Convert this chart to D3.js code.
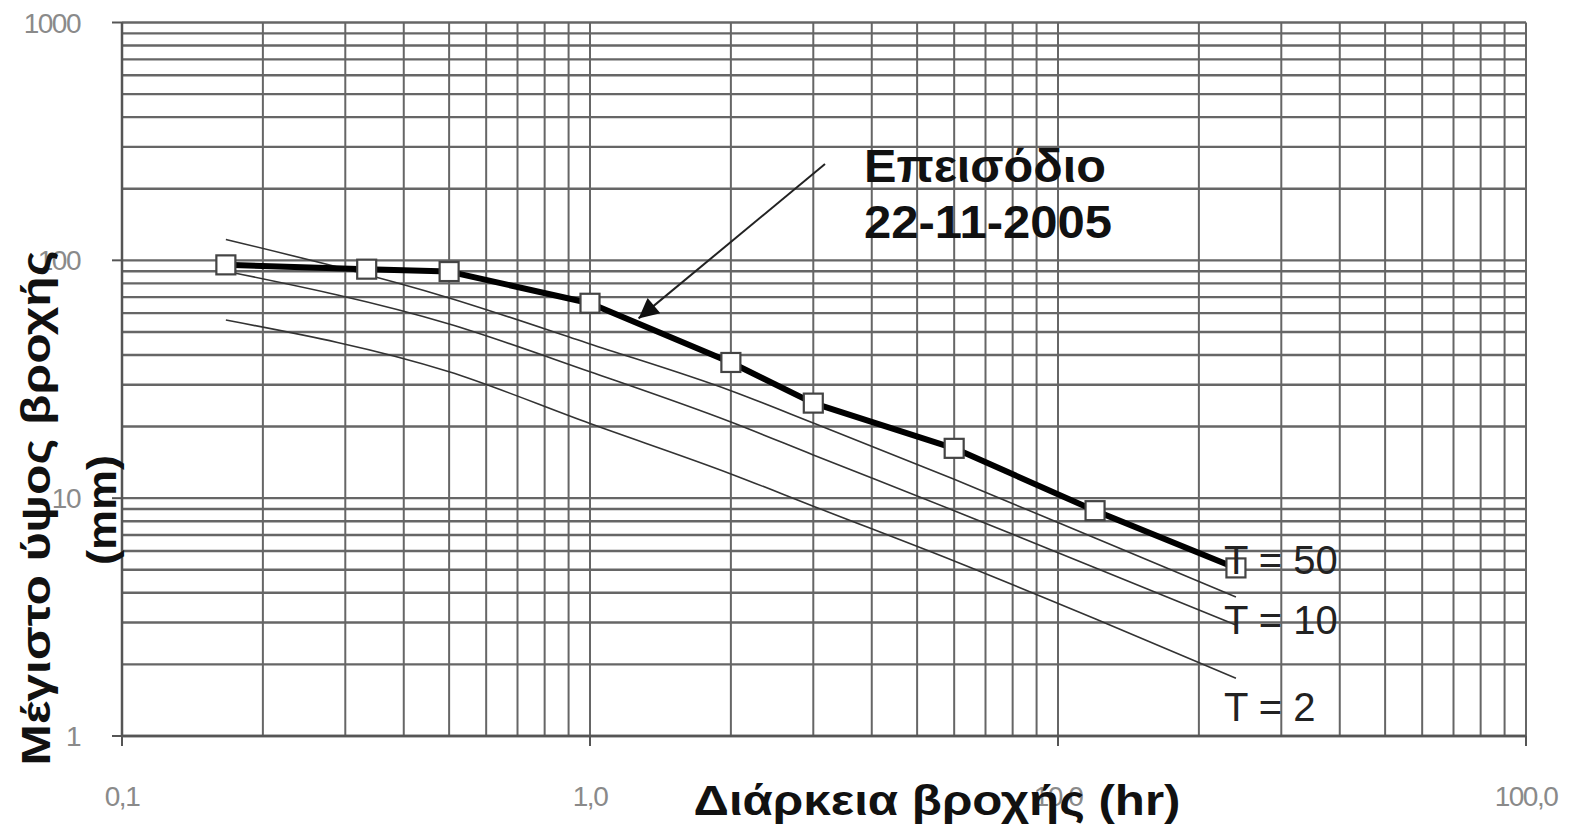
<!DOCTYPE html>
<html>
<head>
<meta charset="utf-8">
<script src="https://cdn.jsdelivr.net/npm/d3@7"></script>
<style>
  html, body { margin: 0; padding: 0; background: #fff; }
  svg { display: block; }
  text { font-family: Arial, "Liberation Sans", sans-serif; }
</style>
</head>
<body>
<svg id="chart" width="1569" height="832"></svg>
<script>
// ---- data ----
const durations = [0.1667, 0.3333, 0.5, 1, 2, 3, 6, 12, 24];
const episode   = [95.7, 91.8, 89.7, 66.0, 37.2, 25.1, 16.2, 8.86, 5.09];

const idfDurations = [0.1667, 0.5, 1, 2, 3, 6, 12, 24];
const t50 = [122.4, 69.5, 44.5, 28.3, 20.7, 12.0, 6.8, 3.84];
const t10 = [90.0, 54.0, 34.0, 20.9, 15.2, 8.86, 5.1, 2.93];
const t2  = [56.1, 34.0, 20.6, 12.65, 9.25, 5.44, 3.11, 1.75];

const curveNames = ["T = 50", "T = 10", "T = 2"];

const xTickValues = [0.1, 1, 10, 100];
const xTickLabels = ["0,1", "1,0", "10,0", "100,0"];
const yTickValues = [1, 10, 100, 1000];
const yTickLabels = ["1", "10", "100", "1000"];

const xTitle = "Διάρκεια βροχής (hr)";
const yTitle1 = "Μέγιστο ύψος βροχής";
const yTitle2 = "(mm)";
const noteLines = ["Επεισόδιο", "22-11-2005"];

// ---- layout ----
const svg = d3.select("#chart");
const x = d3.scaleLog().domain([0.1, 100]).range([122, 1526]);
const y = d3.scaleLog().domain([1, 1000]).range([736, 22.5]);

// grid
const gridColor = "#666";
const g = svg.append("g");
g.selectAll("line.vg").data(x.ticks()).join("line")
  .attr("x1", d => x(d)).attr("x2", d => x(d))
  .attr("y1", y(1000)).attr("y2", y(1))
  .attr("stroke", gridColor).attr("stroke-width", 2);
g.selectAll("line.hg").data(y.ticks()).join("line")
  .attr("y1", d => y(d)).attr("y2", d => y(d))
  .attr("x1", x(0.1)).attr("x2", x(100))
  .attr("stroke", gridColor).attr("stroke-width", 2.4);

// axes (lines + major ticks)
const axisColor = "#555";
svg.append("line").attr("x1", x(0.1)).attr("x2", x(0.1)).attr("y1", y(1000)).attr("y2", y(1))
  .attr("stroke", axisColor).attr("stroke-width", 2.5);
svg.append("line").attr("x1", x(0.1)).attr("x2", x(100)).attr("y1", y(1)).attr("y2", y(1))
  .attr("stroke", axisColor).attr("stroke-width", 2.5);
svg.selectAll("line.yt").data(yTickValues).join("line")
  .attr("x1", x(0.1) - 10).attr("x2", x(0.1)).attr("y1", d => y(d)).attr("y2", d => y(d))
  .attr("stroke", axisColor).attr("stroke-width", 2);
svg.selectAll("line.xt").data(xTickValues).join("line")
  .attr("x1", d => x(d)).attr("x2", d => x(d)).attr("y1", y(1)).attr("y2", y(1) + 10)
  .attr("stroke", axisColor).attr("stroke-width", 2);

// tick labels
const tickColor = "#8a8a8a";
svg.selectAll("text.yl").data(yTickValues).join("text")
  .attr("x", x(0.1) - 42).attr("y", d => y(d) + 10)
  .attr("text-anchor", "end")
  .attr("font-size", 28).attr("fill", tickColor)
  .attr("letter-spacing", -1.5)
  .text((d, i) => yTickLabels[i]);
svg.selectAll("text.xl").data(xTickValues).join("text")
  .attr("x", d => x(d)).attr("y", 806)
  .attr("text-anchor", "middle")
  .attr("font-size", 28).attr("fill", tickColor)
  .attr("letter-spacing", -1.5)
  .text((d, i) => xTickLabels[i]);

// IDF curves
const line = d3.line().x(d => x(d[0])).y(d => y(d[1])).curve(d3.curveMonotoneX);
[t50, t10, t2].forEach(vals => {
  svg.append("path")
    .attr("d", line(idfDurations.map((t, i) => [t, vals[i]])))
    .attr("fill", "none").attr("stroke", "#333").attr("stroke-width", 1.6);
});

// episode
const epLine = d3.line().x(d => x(d[0])).y(d => y(d[1]));
svg.append("path")
  .attr("d", epLine(durations.map((t, i) => [t, episode[i]])))
  .attr("fill", "none").attr("stroke", "#000").attr("stroke-width", 6)
  .attr("stroke-linejoin", "round");
const ms = 19;
svg.selectAll("rect.m").data(durations).join("rect")
  .attr("x", d => x(d) - ms / 2)
  .attr("y", (d, i) => y(episode[i]) - ms / 2)
  .attr("width", ms).attr("height", ms)
  .attr("fill", "#fff").attr("stroke", "#444").attr("stroke-width", 2.2);

// curve labels
const labelY = [t50, t10, t2].map(v => v[v.length - 1]);
const labelDy = [-23, 9, 43];
svg.selectAll("text.cl").data(curveNames).join("text")
  .attr("x", x(24) - 12)
  .attr("y", (d, i) => y(labelY[i]) + labelDy[i])
  .attr("font-size", 40).attr("fill", "#222")
  .text(d => d);

// annotation arrow
const defs = svg.append("defs");
defs.append("marker").attr("id", "arrow")
  .attr("viewBox", "0 0 10 10").attr("refX", 10).attr("refY", 5)
  .attr("markerWidth", 24).attr("markerHeight", 20)
  .attr("markerUnits", "userSpaceOnUse")
  .attr("orient", "auto")
  .append("path").attr("d", "M0,0 L10,5 L0,10 Z").attr("fill", "#111");
svg.append("line")
  .attr("x1", 825).attr("y1", 164)
  .attr("x2", x(1.27)).attr("y2", y(57))
  .attr("stroke", "#222").attr("stroke-width", 2)
  .attr("marker-end", "url(#arrow)");

const noteLen = [242, 248];
svg.selectAll("text.note").data(noteLines).join("text")
  .attr("x", 864).attr("y", (d, i) => 182 + i * 56)
  .attr("font-size", 46).attr("font-weight", "bold").attr("fill", "#111")
  .attr("textLength", (d, i) => noteLen[i]).attr("lengthAdjust", "spacingAndGlyphs")
  .text(d => d);

// titles
svg.append("text")
  .attr("x", 937).attr("y", 815)
  .attr("text-anchor", "middle")
  .attr("font-size", 42).attr("font-weight", "bold").attr("fill", "#111")
  .attr("textLength", 487).attr("lengthAdjust", "spacingAndGlyphs")
  .text(xTitle);
svg.append("text")
  .attr("transform", "translate(50,508) rotate(-90)")
  .attr("text-anchor", "middle")
  .attr("font-size", 40).attr("font-weight", "bold").attr("fill", "#111")
  .attr("textLength", 515).attr("lengthAdjust", "spacingAndGlyphs")
  .text(yTitle1);
svg.append("text")
  .attr("transform", "translate(116,510) rotate(-90)")
  .attr("text-anchor", "middle")
  .attr("font-size", 40).attr("font-weight", "bold").attr("fill", "#111")
  .attr("textLength", 110).attr("lengthAdjust", "spacingAndGlyphs")
  .text(yTitle2);
</script>
</body>
</html>
